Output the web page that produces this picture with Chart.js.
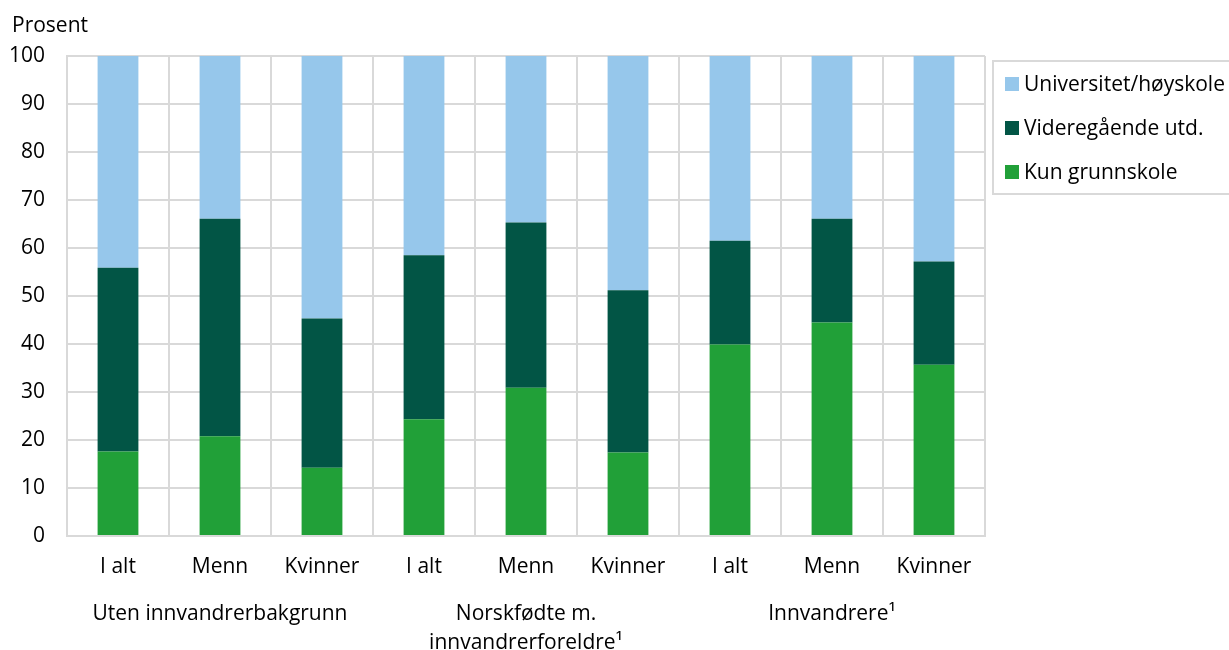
<!DOCTYPE html>
<html>
<head>
<meta charset="utf-8">
<script src="https://cdn.jsdelivr.net/npm/chart.js@4.4.1/dist/chart.umd.min.js"></script>
<style>
  body { margin: 0; background: #fff; }
  #wrap { width: 1229px; height: 650px; }
</style>
</head>
<body>
<div id="wrap"><canvas id="chart" width="1229" height="650"></canvas></div>
<script>
const categories = ['I alt', 'Menn', 'Kvinner', 'I alt', 'Menn', 'Kvinner', 'I alt', 'Menn', 'Kvinner'];
const groupLabels = [['Uten innvandrerbakgrunn'], ['Norskfødte m.', 'innvandrerforeldre¹'], ['Innvandrere¹']];
const groupSize = 3;

const kunGrunnskole = [17.6, 20.8, 14.2, 24.3, 30.9, 17.4, 39.9, 44.5, 35.7];
const videregaende = [38.3, 45.3, 31.1, 34.2, 34.4, 33.8, 21.6, 21.6, 21.5];
const universitet = [44.1, 33.9, 54.7, 41.5, 34.7, 48.8, 38.5, 33.9, 42.8];

const yTicks = [0, 10, 20, 30, 40, 50, 60, 70, 80, 90, 100];

const FONT = '"Open Sans", sans-serif';
const gridColor = '#d9d9d9';

// Prosent-tittel, gruppenavn og legende med ramme
const extras = {
    id: 'extras',
    afterDraw: (chart) => {
        const { ctx, scales: { x }, chartArea } = chart;
        ctx.save();
        ctx.fillStyle = '#000';
        ctx.font = '21px ' + FONT;
        ctx.textAlign = 'left';
        ctx.textBaseline = 'middle';
        ctx.fillText('Prosent', 12, 26);

        ctx.textAlign = 'center';
        groupLabels.forEach((lines, g) => {
            const x0 = x.getPixelForValue(g * groupSize);
            const x1 = x.getPixelForValue(g * groupSize + groupSize - 1);
            lines.forEach((line, i) => {
                ctx.fillText(line, (x0 + x1) / 2, 614 + i * 29);
            });
        });

        // legende
        const lx = chartArea.right + 8;
        const ly = 61;
        ctx.strokeStyle = gridColor;
        ctx.lineWidth = 2;
        ctx.strokeRect(lx, ly, 260, 133);
        const sets = chart.data.datasets.slice().reverse();
        ctx.textAlign = 'left';
        sets.forEach((ds, i) => {
            const cy = 84 + i * 44;
            ctx.fillStyle = ds.backgroundColor;
            ctx.fillRect(lx + 12, cy - 7, 14, 14);
            ctx.fillStyle = '#000';
            ctx.fillText(ds.label, lx + 31, cy + 1);
        });
        ctx.restore();
    }
};

new Chart(document.getElementById('chart'), {
    type: 'bar',
    data: {
        labels: categories,
        datasets: [
            { label: 'Kun grunnskole', data: kunGrunnskole, backgroundColor: '#21a038' },
            { label: 'Videregående utd.', data: videregaende, backgroundColor: '#025545' },
            { label: 'Universitet/høyskole', data: universitet, backgroundColor: '#96c7eb' }
        ]
    },
    options: {
        responsive: false,
        animation: false,
        datasets: {
            bar: { barPercentage: 0.4, categoryPercentage: 1 }
        },
        layout: { padding: { left: 0, top: 56, right: 244, bottom: 0 } },
        plugins: {
            legend: { display: false },
            tooltip: { enabled: false }
        },
        scales: {
            x: {
                stacked: true,
                grid: { color: gridColor, lineWidth: 2, drawTicks: false, offset: true },
                border: { color: gridColor, width: 2 },
                ticks: { color: '#000', font: { family: FONT, size: 21 }, padding: 18, maxRotation: 0 },
                afterFit: (scale) => { scale.height = 114; }
            },
            y: {
                stacked: true,
                min: 0,
                max: 100,
                afterBuildTicks: (scale) => { scale.ticks = yTicks.map(v => ({ value: v })); },
                grid: { color: gridColor, lineWidth: 2, drawTicks: false },
                border: { color: gridColor, width: 2 },
                ticks: { color: '#000', font: { family: FONT, size: 21 }, padding: 22 },
                afterFit: (scale) => { scale.width = 67; }
            }
        }
    },
    plugins: [extras]
});
</script>
</body>
</html>
